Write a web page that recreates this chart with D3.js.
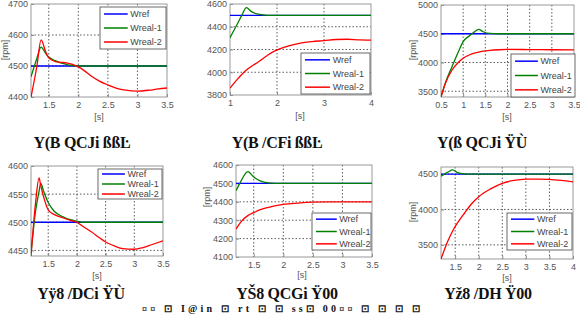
<!DOCTYPE html>
<html>
<head>
<meta charset="utf-8">
<script src="https://cdn.jsdelivr.net/npm/d3@7"></script>
<style>
  body { margin: 0; background: #fff; }
  svg { display: block; }
  .tick text { font-family: "Liberation Sans", Arial, sans-serif; font-size: 9px; fill: #555; }
  .cap { font-family: "Liberation Serif", "Times New Roman", serif; font-size: 16px; font-weight: bold; fill: #111; letter-spacing: -0.3px; }
</style>
</head>
<body>
<svg id="chart" width="580" height="314"></svg>
<script>
// series names
const names = ["Wref", "Wreal-1", "Wreal-2"];
const wref = 4500;

// panel 1
const t1 = [1.2, 1.3, 1.37, 1.45, 1.5, 1.6, 1.7, 1.8, 1.9, 2.0, 2.1, 2.2, 2.35, 2.5, 2.65, 2.8, 3.0, 3.2, 3.35, 3.5];
const g1 = [4465, 4525, 4561, 4540, 4529, 4518, 4510, 4505, 4501, 4500, 4500, 4500, 4500, 4500, 4500, 4500, 4500, 4500, 4500, 4500];
const r1 = [4400, 4500, 4584, 4545, 4526, 4515, 4512, 4510, 4505, 4497, 4485, 4470, 4452, 4439, 4428, 4422, 4419, 4422, 4426, 4429];

// panel 2
const t2 = [1.0, 1.15, 1.25, 1.35, 1.45, 1.6, 1.8, 2.0, 2.25, 2.5, 2.75, 3.0, 3.25, 3.5, 3.75, 4.0];
const g2 = [4304, 4420, 4500, 4568, 4535, 4510, 4500, 4500, 4500, 4500, 4500, 4500, 4500, 4500, 4500, 4500];
const r2 = [3860, 3935, 3980, 4020, 4050, 4090, 4150, 4196, 4232, 4257, 4270, 4278, 4288, 4290, 4285, 4283];

// panel 3
const t3 = [0.5, 0.6, 0.75, 0.9, 1.0, 1.15, 1.25, 1.35, 1.45, 1.6, 1.8, 2.0, 2.5, 3.0, 3.5];
const g3 = [3400, 3650, 3930, 4200, 4362, 4470, 4530, 4577, 4535, 4505, 4500, 4500, 4500, 4500, 4500];
const r3 = [3400, 3640, 3870, 4010, 4075, 4135, 4162, 4182, 4196, 4210, 4222, 4228, 4225, 4222, 4220];

// panel 4
const t4 = [1.2, 1.28, 1.34, 1.37, 1.42, 1.5, 1.6, 1.75, 1.9, 2.0, 2.1, 2.25, 2.4, 2.5, 2.65, 2.8, 3.0, 3.15, 3.3, 3.5];
const g4 = [4445, 4520, 4555, 4569, 4555, 4535, 4520, 4510, 4504, 4502, 4500, 4500, 4500, 4500, 4500, 4500, 4500, 4500, 4500, 4500];
const r4 = [4440, 4535, 4579, 4565, 4545, 4522, 4514, 4508, 4503, 4500, 4493, 4483, 4472, 4465, 4458, 4453, 4452, 4455, 4460, 4467];

// panel 5
const t5 = [1.2, 1.28, 1.4, 1.5, 1.6, 1.75, 2.0, 2.25, 2.5, 2.75, 3.0, 3.5];
const g5 = [4460, 4510, 4564, 4535, 4515, 4503, 4500, 4500, 4500, 4500, 4500, 4500];
const r5 = [4252, 4290, 4325, 4341, 4356, 4370, 4386, 4393, 4398, 4400, 4400, 4400];

// panel 6
const t6 = [1.2, 1.35, 1.45, 1.55, 1.7, 1.85, 2.0, 2.25, 2.5, 2.75, 3.0, 3.25, 3.5, 3.75, 4.0];
const g6 = [4470, 4530, 4560, 4520, 4503, 4500, 4500, 4500, 4500, 4500, 4500, 4500, 4500, 4500, 4500];
const r6 = [3300, 3560, 3700, 3810, 3950, 4080, 4180, 4290, 4370, 4410, 4428, 4430, 4425, 4410, 4390];

// tick values
const xt1 = [1.5, 2, 2.5, 3, 3.5];
const yt1 = [4400, 4500, 4600, 4700];
const xt2 = [1, 2, 3, 4];
const yt2 = [3800, 4000, 4200, 4400, 4600];
const xt3 = [0.5, 1, 1.5, 2, 2.5, 3, 3.5];
const yt3 = [3500, 4000, 4500, 5000];
const xt4 = [1.5, 2, 2.5, 3, 3.5];
const yt4 = [4450, 4500, 4550, 4600];
const xt5 = [1.5, 2, 2.5, 3, 3.5];
const yt5 = [4100, 4200, 4300, 4400, 4500, 4600];
const xt6 = [1.5, 2, 2.5, 3, 3.5, 4];
const yt6 = [3500, 4000, 4500];

// captions (as in the picture)
const captions = ["Y(B QCJi  ßßĿ", "Y(B /CFi  ßßĿ", "Y(ß QCJi  ŸÙ", "Yÿ8 /DCi  ŸÙ", "YŠ8 QCGi  Ÿ00", "Yž8 /DH  Ÿ00"];
const footer = "¤¤ ⊡  I@in ⊡ rt ⊡ ⊡   ss⊡   00¤¤   ⊡ ⊡   ⊡ ⊡";

const colors = ["#0000ff", "#008000", "#ff0000"];

const panels = [
  {t: t1, g: g1, r: r1, xd: [1.2, 3.5], yd: [4400, 4700], xt: xt1, yt: yt1, box: [31, 4, 167, 97], rpm: [8, 50], s: [99, 120], leg: [100, 7, 66, 42], cap: [82, 148]},
  {t: t2, g: g2, r: r2, xd: [1, 4], yd: [3800, 4600], xt: xt2, yt: yt2, box: [230, 4, 371, 95], rpm: null, s: [300, 119], leg: [301, 53, 69, 41], cap: [277, 148]},
  {t: t3, g: g3, r: r3, xd: [0.5, 3.5], yd: [3400, 5000], xt: xt3, yt: yt3, box: [441, 5, 574, 97], rpm: [416, 50], s: [507, 120], leg: [511, 54, 64, 43], cap: [482, 148]},
  {t: t4, g: g4, r: r4, xd: [1.2, 3.5], yd: [4440, 4600], xt: xt4, yt: yt4, box: [31, 166, 163, 256], rpm: null, s: [97, 279], leg: [98, 169, 64, 30], cap: [81, 299]},
  {t: t5, g: g5, r: r5, xd: [1.2, 3.5], yd: [4100, 4600], xt: xt5, yt: yt5, box: [236, 165, 372, 257], rpm: [210, 197], s: [302, 278], leg: [312, 213, 59, 37], cap: [287, 299]},
  {t: t6, g: g6, r: r6, xd: [1.2, 4], yd: [3300, 4600], xt: xt6, yt: yt6, box: [441, 167, 573, 259], rpm: [416, 212], s: [507, 281], leg: [507, 213, 65, 37], cap: [488, 299]}
];

const svg = d3.select("#chart");

panels.forEach(function (p, i) {
  const [x0, y0, x1, y1] = p.box;
  const x = d3.scaleLinear().domain(p.xd).range([x0, x1]);
  const y = d3.scaleLinear().domain(p.yd).range([y1, y0]);
  const g = svg.append("g");

  // grid
  g.selectAll(".gx").data(p.xt.filter(v => v > p.xd[0] && v < p.xd[1])).enter()
    .append("line")
    .attr("x1", d => x(d)).attr("x2", d => x(d))
    .attr("y1", y0).attr("y2", y1)
    .attr("stroke", "#333").attr("stroke-width", 0.8).attr("stroke-dasharray", "1.5,2");
  g.selectAll(".gy").data(p.yt.filter(v => v > p.yd[0] && v < p.yd[1])).enter()
    .append("line")
    .attr("y1", d => y(d)).attr("y2", d => y(d))
    .attr("x1", x0).attr("x2", x1)
    .attr("stroke", "#333").attr("stroke-width", 0.8).attr("stroke-dasharray", "1.5,2");

  // axes
  const xa = g.append("g").attr("transform", "translate(0," + y1 + ")")
    .call(d3.axisBottom(x).tickValues(p.xt).tickSize(-3).tickPadding(5).tickFormat(d3.format("")));
  const ya = g.append("g").attr("transform", "translate(" + x0 + ",0)")
    .call(d3.axisLeft(y).tickValues(p.yt).tickSize(-3).tickPadding(3).tickFormat(d3.format("d")));
  [xa, ya].forEach(a => {
    a.select(".domain").remove();
    a.selectAll(".tick line").attr("stroke", "#888");
  });

  // frame
  g.append("rect").attr("x", x0).attr("y", y0).attr("width", x1 - x0).attr("height", y1 - y0)
    .attr("fill", "none").attr("stroke", "#999").attr("stroke-width", 1);

  // lines
  const clipId = "clip" + i;
  svg.append("clipPath").attr("id", clipId).append("rect")
    .attr("x", x0).attr("y", y0).attr("width", x1 - x0).attr("height", y1 - y0);
  const line = d3.line().x(d => x(d[0])).y(d => y(d[1])).curve(d3.curveMonotoneX);
  const series = [
    p.xd.map(v => [v, wref]),
    p.t.map((v, k) => [v, p.g[k]]),
    p.t.map((v, k) => [v, p.r[k]])
  ];
  const lg = g.append("g").attr("clip-path", "url(#" + clipId + ")");
  series.forEach((s, k) => {
    lg.append("path").datum(s).attr("d", line)
      .attr("fill", "none").attr("stroke", colors[k]).attr("stroke-width", 1.3);
  });

  // legend
  const [lx, ly, lw, lh] = p.leg;
  const leg = g.append("g");
  leg.append("rect").attr("x", lx).attr("y", ly).attr("width", lw).attr("height", lh)
    .attr("fill", "#fff").attr("stroke", "#444").attr("stroke-width", 0.8);
  const step = lh / 3;
  names.forEach((n, k) => {
    const cy = ly + step * (k + 0.5);
    leg.append("line").attr("x1", lx + 4).attr("x2", lx + lw * 0.42)
      .attr("y1", cy).attr("y2", cy).attr("stroke", colors[k]).attr("stroke-width", 1.5);
    leg.append("text").attr("x", lx + lw * 0.46).attr("y", cy + 3)
      .attr("font-family", "Liberation Sans, Arial, sans-serif").attr("font-size", 9).attr("fill", "#444")
      .text(n);
  });

  // labels
  g.append("text").attr("x", p.s[0]).attr("y", p.s[1]).attr("text-anchor", "middle")
    .attr("font-family", "Liberation Sans, Arial, sans-serif").attr("font-size", 9).attr("fill", "#555")
    .text("[s]");
  if (p.rpm) {
    g.append("text").attr("transform", "translate(" + p.rpm[0] + "," + p.rpm[1] + ") rotate(-90)")
      .attr("text-anchor", "middle")
      .attr("font-family", "Liberation Sans, Arial, sans-serif").attr("font-size", 9).attr("fill", "#555")
      .text("[rpm]");
  }
  g.append("text").attr("class", "cap").attr("x", p.cap[0]).attr("y", p.cap[1])
    .attr("text-anchor", "middle").text(captions[i]);
});

// footer line, shrunk so it stays inside the frame, spread to the reference width
svg.append("text").attr("x", 142).attr("y", 312)
  .attr("textLength", 278).attr("lengthAdjust", "spacing")
  .attr("font-family", "Liberation Serif, Times New Roman, serif")
  .attr("font-size", 10).attr("font-weight", "bold").attr("fill", "#111")
  .text(footer);
</script>
</body>
</html>
